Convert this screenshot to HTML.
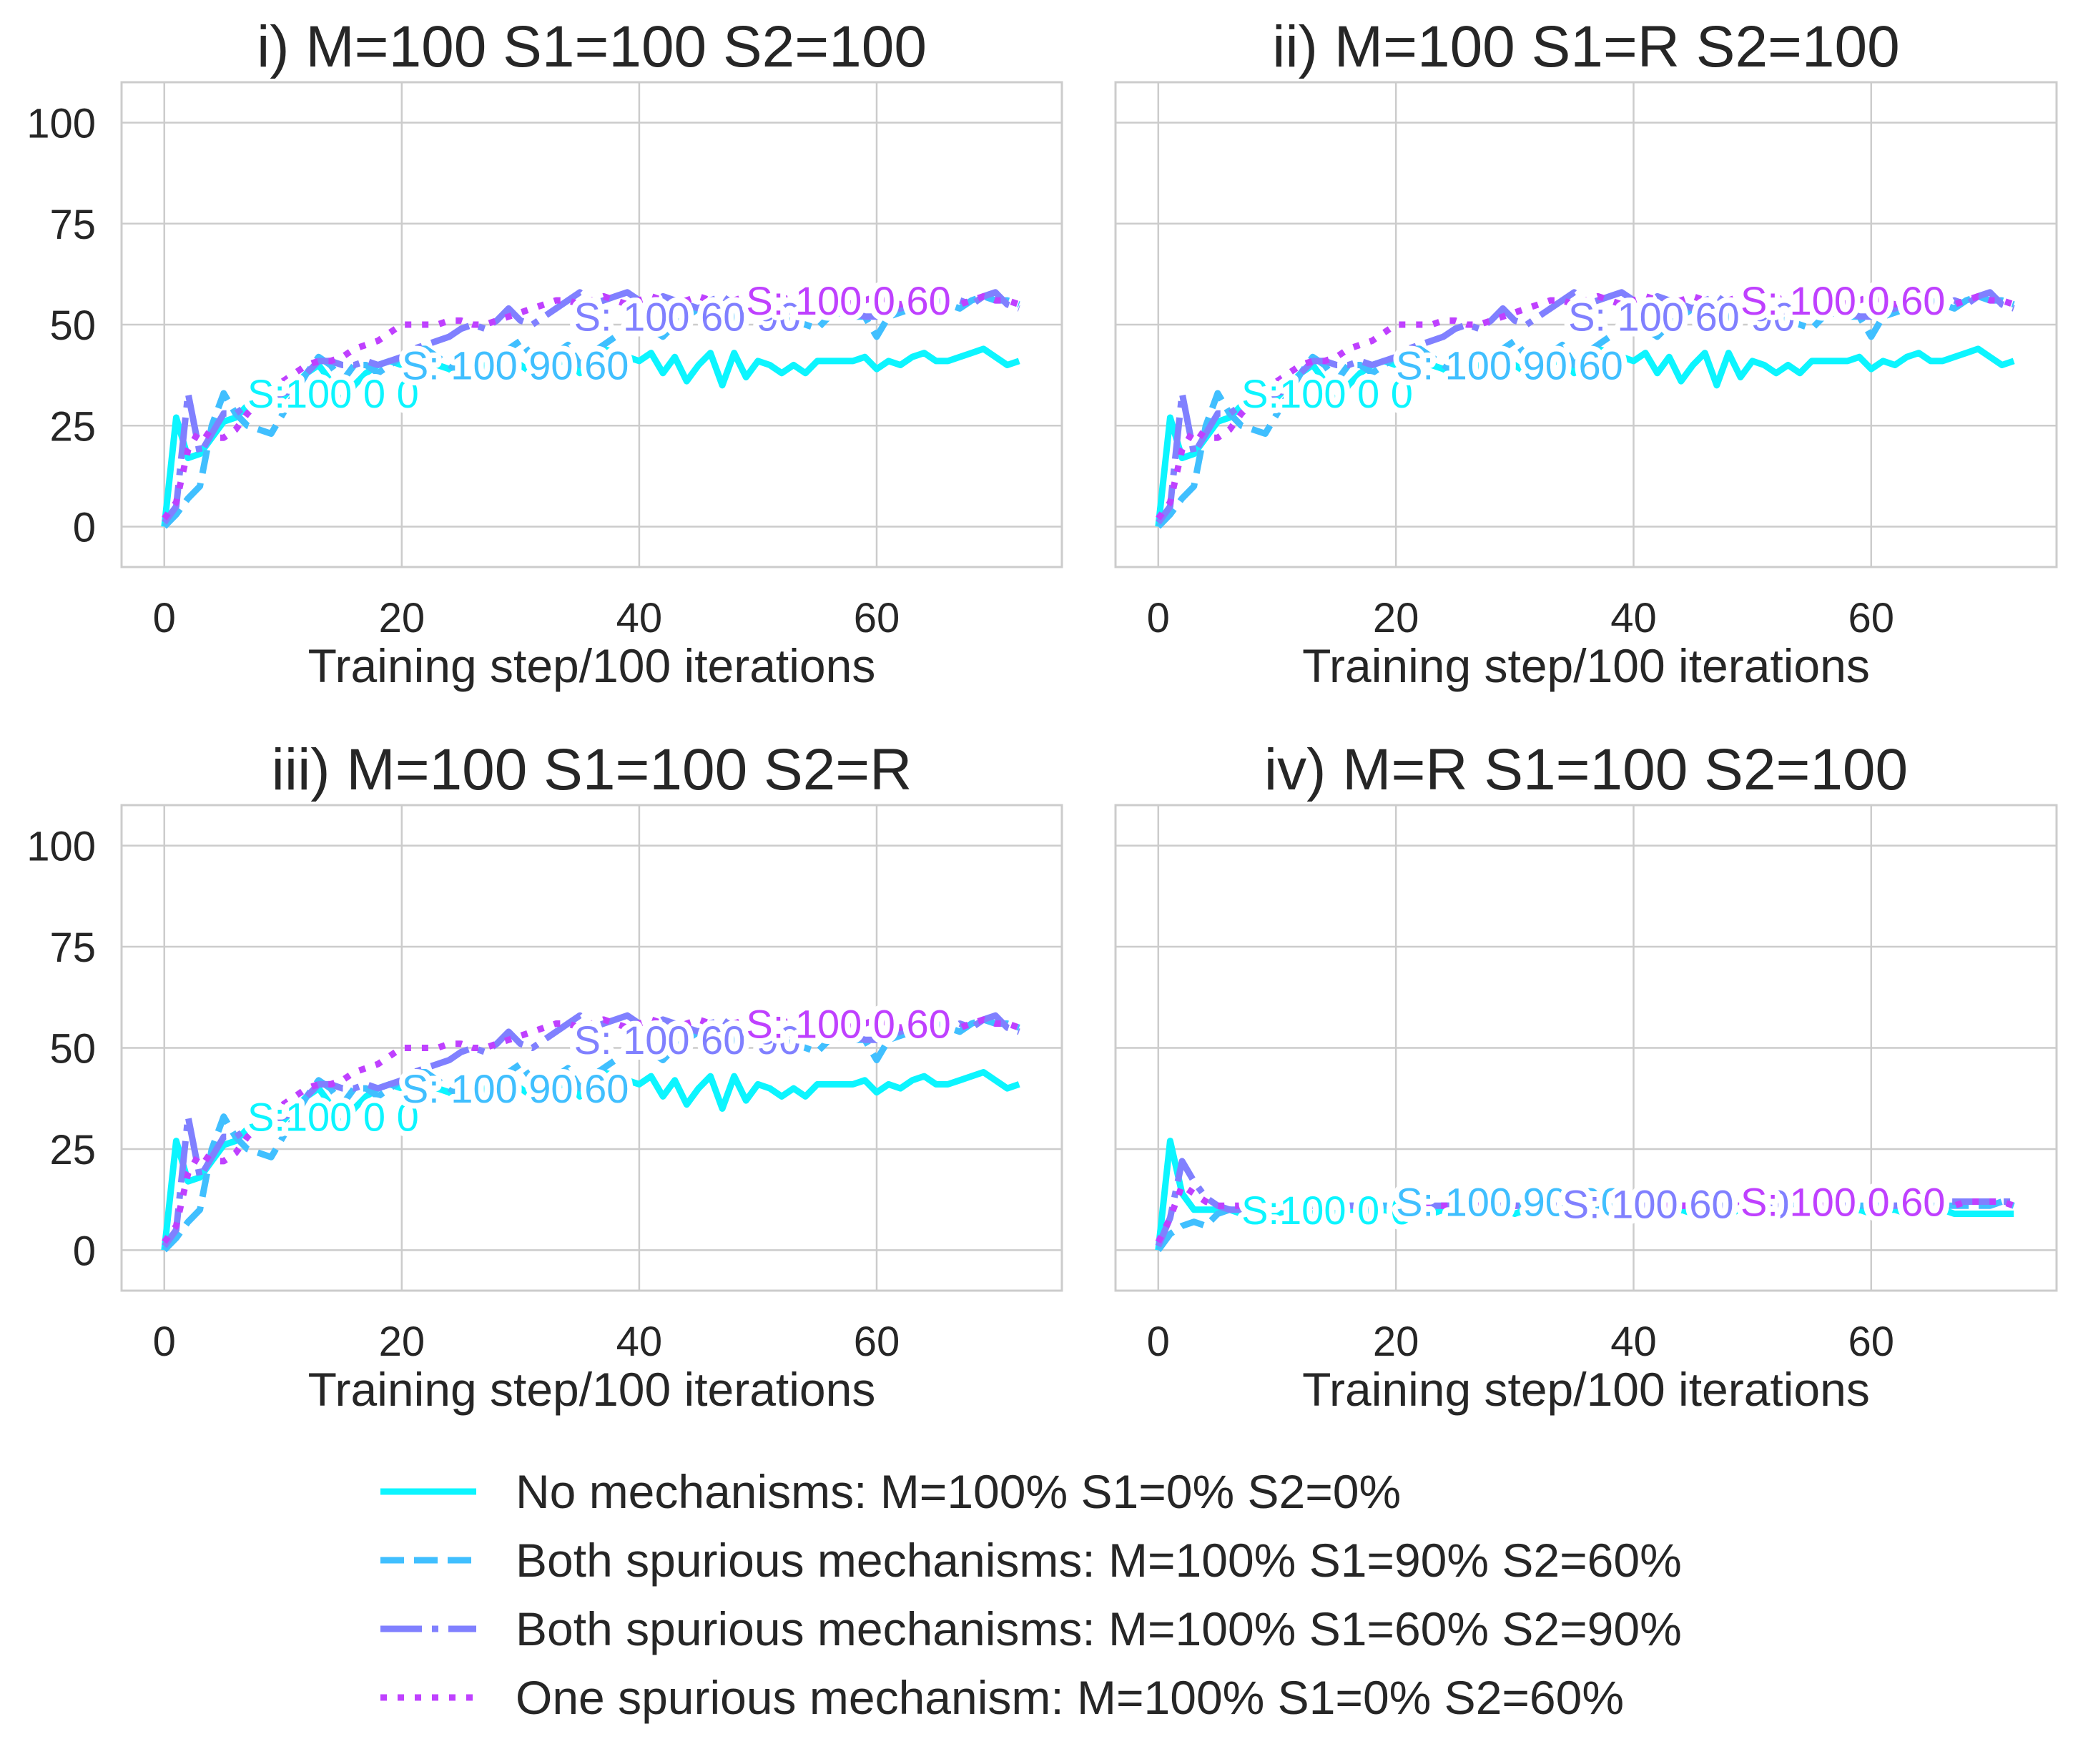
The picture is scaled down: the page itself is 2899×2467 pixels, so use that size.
<!DOCTYPE html>
<html><head><meta charset="utf-8"><style>
html,body{margin:0;padding:0;background:#fff;}
svg{display:block;font-family:"Liberation Sans",sans-serif;}
</style></head><body>
<svg id="fig" width="2899" height="2467" viewBox="0 0 2899 2467" xmlns="http://www.w3.org/2000/svg"></svg>
<script>
const steps = Array.from({length:73},(_,i)=>i);
const noMech = [0,27,17,18,22,26,27,30,31,30,32,35,38,40,36,30,35,38,40,41,40,40,41,40,39,37,38,40,38,38,40,38,37,40,42,38,42,44,43,42,41,43,38,42,36,40,43,35,43,37,41,40,38,40,38,41,41,41,41,42,39,41,40,42,43,41,41,42,43,44,42,40,41];
const both9060 = [0,3,7,10,25,33,28,25,24,23,28,33,38,42,40,36,40,40,38,40,42,44,44,42,40,38,40,38,42,44,46,42,40,43,45,40,43,45,47,49,50,49,47,50,52,54,51,49,52,54,52,52,53,51,50,49,52,53,52,52,47,52,53,54,55,56,55,54,56,57,56,56,55];
const both6090 = [1,5,33,18,23,28,28,30,31,32,33,34,38,41,41,40,40,41,40,41,42,44,45,46,47,49,50,49,51,54,51,50,52,54,56,58,55,56,57,58,56,55,57,56,55,54,56,57,55,54,55,56,54,53,55,56,55,54,53,52,52,53,54,55,56,55,54,56,55,57,58,55,54];
const one060 = [2,6,19,24,22,22,24,28,31,34,36,38,40,41,41,42,44,45,46,48,50,50,50,50,51,51,50,50,51,52,53,54,55,56,56,55,56,57,56,55,56,57,56,55,56,57,56,55,56,57,56,55,56,57,56,55,56,56,55,56,57,56,55,56,56,57,56,55,56,57,56,56,55];
const r_noMech = [0,27,14,10,10,10,10,9,9,10,9,10,10,9,10,9,10,10,9,10,9,10,10,9,10,9,10,10,9,10,9,10,10,9,10,9,10,10,9,10,9,10,10,9,10,9,10,10,9,10,9,10,10,9,10,9,10,10,9,10,9,10,10,9,10,9,10,9,9,9,9,9,9];
const r_both9060 = [0,4,6,7,6,9,10,10,11,11,11,10,11,11,11,11,11,11,11,11,11,11,11,11,11,11,11,11,11,11,11,11,11,11,11,11,11,11,11,11,11,11,11,11,11,11,11,11,11,11,11,11,11,11,11,11,11,11,11,11,11,11,11,11,11,11,11,11,11,11,11,12,11];
const r_both6090 = [1,8,22,17,13,11,10,10,11,11,11,11,11,11,11,11,11,11,11,11,11,11,11,11,11,11,11,11,11,11,11,11,11,11,11,11,11,11,11,11,11,11,11,11,11,11,11,11,11,11,11,11,11,11,11,11,11,11,11,11,11,11,11,11,11,11,12,12,12,12,12,12,12];
const r_one060 = [2,8,16,14,12,11,11,11,11,11,11,11,11,11,11,11,11,11,11,11,11,11,11,11,11,11,11,11,11,11,11,11,11,11,11,11,11,11,11,11,11,11,11,11,11,11,11,11,11,11,11,11,11,11,11,11,11,11,11,11,11,11,11,11,11,11,11,11,12,12,12,12,11];
const xTicks = [0,20,40,60];
const yTicks = [0,25,50,75,100];
const titles = ["i) M=100 S1=100 S2=100","ii) M=100 S1=R S2=100","iii) M=100 S1=100 S2=R","iv) M=R S1=100 S2=100"];
const legendLabels = ["No mechanisms: M=100% S1=0% S2=0%","Both spurious mechanisms: M=100% S1=90% S2=60%","Both spurious mechanisms: M=100% S1=60% S2=90%","One spurious mechanism: M=100% S1=0% S2=60%"];
const annotText = ["S:100 0 0","S: 100 90 60","S: 100 60 90","S: 100 0 60"];
const annotX = [7,20,34.5,49];
const annotY = [33,40,52,56];
const annotYR = [10,12,11.5,12];
const annotXR = [7,20,34,49];

const colors = ["#0cf5ff","#40bfff","#8080ff","#bf40ff"];
const dashes = ["","33,14","58,14,9,14","9,15"];
const NS="http://www.w3.org/2000/svg";
const svg=document.getElementById('fig');
function el(tag,attrs,parent){const e=document.createElementNS(NS,tag);for(const k in attrs)e.setAttribute(k,attrs[k]);(parent||svg).appendChild(e);return e;}

const panels=[{x0:170,x1:1485,y0:115,y1:793,yl:true},{x0:1560,x1:2876,y0:115,y1:793,yl:false},{x0:170,x1:1485,y0:1126,y1:1805,yl:true},{x0:1560,x1:2876,y0:1126,y1:1805,yl:false}];
panels.forEach((p,pi)=>{
  const g=el('g',{});
  
  
  const sx=v=>p.x0+(v+3.6)/(79.2)*(p.x1-p.x0);
  const sy=v=>p.y1-(v+10)/120*(p.y1-p.y0);
  xTicks.forEach(t=>{
    const l=el('line',{x1:sx(t),x2:sx(t),y1:p.y0,y2:p.y1,stroke:'#cccccc','stroke-width':2.5},g);
    
    
    const tx=el('text',{x:sx(t),y:p.y1+91,'text-anchor':'middle','font-size':58,fill:'#262626'},g);
    tx.textContent=t;
    
    
  });
  yTicks.forEach(t=>{
    const l=el('line',{x1:p.x0,x2:p.x1,y1:sy(t),y2:sy(t),stroke:'#cccccc','stroke-width':2.5},g);
    
    
    if(p.yl){
      const tx=el('text',{x:p.x0-36,y:sy(t)+21,'text-anchor':'end','font-size':58,fill:'#262626'},g);
      tx.textContent=t;
      
      
    }
  });
  const fr=el('rect',{x:p.x0,y:p.y0,width:p.x1-p.x0,height:p.y1-p.y0,fill:'none',stroke:'#cccccc','stroke-width':3},g);
  
  
  const series = pi===3?[r_noMech,r_both9060,r_both6090,r_one060]:[noMech,both9060,both6090,one060];
  series.forEach((s,si)=>{
    const d=s.map((v,i)=>(i?'L':'M')+sx(steps[i]).toFixed(1)+','+sy(v).toFixed(1)).join('');
    const a={d:d,fill:'none',stroke:colors[si],'stroke-width':9,'stroke-linejoin':'round'};
    if(dashes[si])a['stroke-dasharray']=dashes[si];
    const path=el('path',a,g);
    
    
  });
  annotText.forEach((t,ai)=>{
    const ax=pi===3?annotXR[ai]:annotX[ai], ay=pi===3?annotYR[ai]:annotY[ai];
    const tx=el('text',{x:sx(ax),y:sy(ay)+20,'font-size':56,fill:colors[ai],stroke:'#ffffff','stroke-width':16,'paint-order':'stroke','stroke-linejoin':'round'},g);
    tx.textContent=t;
    
    
  });
  const tt=el('text',{x:(p.x0+p.x1)/2,y:p.y0-22,'text-anchor':'middle','font-size':82,fill:'#262626'},g);
  tt.textContent=titles[pi];
  
  
  const xl=el('text',{x:(p.x0+p.x1)/2,y:p.y1+161,'text-anchor':'middle','font-size':66,fill:'#262626'},g);
  xl.textContent='Training step/100 iterations';
  
  
});
const lg=el('g',{});


legendLabels.forEach((t,i)=>{
  const y=2086+i*96;
  const a={x1:532,x2:666,y1:y,y2:y,stroke:colors[i],'stroke-width':9};
  if(dashes[i])a['stroke-dasharray']=dashes[i];
  const l=el('line',a,lg);
  
  
  const tx=el('text',{x:721,y:y+23,'font-size':66,fill:'#262626'},lg);
  tx.textContent=t;
  
  
});
</script>
</body></html>
